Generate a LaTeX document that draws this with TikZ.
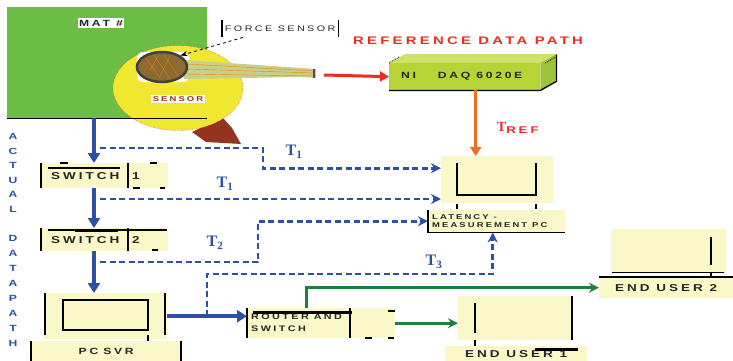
\documentclass[tikz,border=0pt]{standalone}
\usepackage{fontspec}
\usepackage{tikz}
\usetikzlibrary{arrows.meta,shapes.geometric,positioning}
\newfontfamily\boxfont[FakeStretch=1.35,LetterSpace=30]{Liberation Sans}
\newfontfamily\tfont{Liberation Serif}

\definecolor{matgreen}{HTML}{6CBD45}
\definecolor{padyellow}{HTML}{F0E830}
\definecolor{padbrown}{HTML}{943322}
\definecolor{discbrown}{HTML}{8C6A30}
\definecolor{tailgreen}{HTML}{C9CF8A}
\definecolor{paleyellow}{HTML}{FAF7C9}
\definecolor{pathblue}{HTML}{2F4FA2}
\definecolor{netgreen}{HTML}{1F7F3C}
\definecolor{daqgreen}{HTML}{B7D437}
\definecolor{daqtop}{HTML}{CFE168}
\definecolor{daqside}{HTML}{9CC43A}
\definecolor{refred}{HTML}{EE2A24}
\definecolor{reforange}{HTML}{F26B22}

\begin{document}
\begin{tikzpicture}[x=1pt, y=-1pt,
                    every node/.style={inner sep=0pt, font=\boxfont\bfseries\fontsize{9}{10}\selectfont, text=black!85},
                    unit/.style={rectangle, fill=paleyellow, anchor=north west, align=left},
                    whitetag/.style={fill=white, inner sep=1.5pt},
                    blackline/.style={black, line width=1.3pt},
                    actual/.style={pathblue, line width=3.5pt, -{Triangle[length=10pt,width=12pt]}},
                    tap/.style={pathblue, line width=2.6pt, dash pattern=on 6pt off 3.5pt, -{Stealth[length=10pt,width=10pt]}},
                    net/.style={netgreen, line width=2.6pt, -{Stealth[length=10pt,width=10pt]}},
                    tlabel/.style={text=pathblue, font=\tfont\bfseries\fontsize{16}{16}\selectfont},
                    align=center,
                ]
                \useasboundingbox (0,0) rectangle (733,361);

                % mat with the force sensor on its pad
                \node[fill=matgreen, minimum width=200pt, minimum height=111pt, anchor=north west] (mat) at (7,7) {};
                \fill[padbrown] (192,132) -- (208,124) -- (223,118) -- (232,128) -- (241,144) -- (206,142) -- cycle;
                \node[ellipse, fill=padyellow, draw=refred, densely dotted, thin, minimum width=130pt, minimum height=85pt] (pad) at (178,88) {};
                \draw[blackline] (mat.south west) -- (mat.south east);
                \node[whitetag] (matname) at (101,23) {MAT \#};
                \fill[white, rounded corners=6pt] (137,52) rectangle (189,82);
                \fill[tailgreen] (184,60) -- (302,68) -- (316,69) -- (316,78) -- (302,77) -- (184,79) -- cycle;
                \draw[orange!70!brown, thin] (186,64) -- (315,71) (186,69) -- (315,73) (186,74) -- (315,76);
                \draw[black!70, line width=2pt] (314,69) -- (314,78);
                \node[ellipse, draw=black!75, line width=2.5pt, fill=discbrown, minimum width=50pt, minimum height=30pt] (disc) at (162,67) {};
                \draw[orange!60!brown, thin] (146,58) -- (160,78) (154,55) -- (170,79) (164,55) -- (178,76) (150,70) -- (158,56) (160,76) -- (170,56);
                \node[whitetag, text=padbrown, font=\boxfont\bfseries\fontsize{7}{8}\selectfont] (padname) at (178,99) {SENSOR};
                \node[anchor=north west, minimum width=116pt, minimum height=17pt, font=\boxfont\fontsize{8}{9}\selectfont] (sensorname) at (222,20) {FORCE SENSOR};
                \draw[blackline] (sensorname.north west) -- (sensorname.south west) (sensorname.north east) -- (sensorname.south east);
                \draw[black, thick, dashed, -{Stealth[length=7pt]}] ([xshift=21pt]sensorname.south west) -- (disc.north east);

                % reference path
                \coordinate (tailend) at (324,75);
                \node[text=refred, font=\boxfont\bfseries\fontsize{11}{12}\selectfont] (refpath) at (468,41) {REFERENCE DATA PATH};
                \node[fill=daqgreen, minimum width=151pt, minimum height=27pt, anchor=north west] (daq) at (389,63) {NI\hspace{22pt}DAQ 6020E\hspace{6pt}};
                \fill[daqtop] (daq.north west) -- ++(16,-9) -- ++(151,0) -- (daq.north east) -- cycle;
                \fill[daqside] (daq.north east) -- ++(16,-9) -- ++(0,27) -- (daq.south east) -- cycle;
                \draw[blackline] (daq.south west) -- (daq.south east) -- ++(16,-9) -- ++(0,-27);
                \draw[black, densely dotted, thick] (daq.north west) -- ++(10,-6) ([xshift=5pt]daq.north east) -- ++(10,-6);
                \draw[refred, line width=3pt, -{Triangle[length=9pt,width=10pt]}] (tailend) -- (daq.west);

                \node[unit, minimum width=112pt, minimum height=47pt] (lpc) at (441,156) {};
                \draw[blackline] (457,163) -- (457,195) -- (536,195) -- (536,163);
                \node[unit, minimum width=137pt, minimum height=22pt, text width=129pt, font=\boxfont\bfseries\fontsize{7}{8}\selectfont] (lbase) at (428,210) {LATENCY\hspace{5pt}-\\MEASUREMENT\hspace{5pt}PC};
                \draw[blackline] (lbase.north west) -- (lbase.south west) -- (lbase.south east);
                \draw[blackline] (457,204) -- (457,209) (536,204) -- (536,209);
                \draw[reforange, line width=3.5pt, -{Triangle[length=9pt,width=11pt]}] ([xshift=11pt]daq.south) -- ([xshift=11pt]daq.south |- lpc.north);
                \node[text=refred, font=\tfont\bfseries\fontsize{14}{14}\selectfont] (tref) at (518,128) {T\textsubscript{\boxfont\bfseries REF}};

                % actual path
                \coordinate (col) at (94,0);
                \node[text=pathblue, font=\boxfont\bfseries\fontsize{9}{14.5}\selectfont] (actual) at (13,173) {A\\C\\T\\U\\A\\L};
                \node[text=pathblue, font=\boxfont\bfseries\fontsize{9}{15}\selectfont] (datapath) at (13,291) {D\\A\\T\\A\\P\\A\\T\\H};

                \node[unit, minimum width=127pt, minimum height=25pt, text width=119pt, font=\boxfont\bfseries\fontsize{10}{11}\selectfont] (sw1) at (41,163) {\hspace*{6pt}\makebox[81pt][l]{SWITCH}1};
                \draw[blackline] (sw1.north west) -- (sw1.south west) (128,163) -- (128,188);
                \draw[black, line width=2.5pt] (48,168) -- (120,168);
                \draw[black, line width=1.5pt] (60,163) -- (68,163) (150,163) -- (157,163) (133,188) -- (140,188) (160,188) -- (165,188);

                \node[unit, minimum width=127pt, minimum height=23pt, text width=119pt, font=\boxfont\bfseries\fontsize{10}{11}\selectfont] (sw2) at (41,228) {\hspace*{6pt}\makebox[81pt][l]{SWITCH}2};
                \draw[blackline] (sw2.north west) -- (sw2.south west) (128,228) -- (128,251);
                \draw[black, line width=1.5pt] (48,230) -- (167,230) (152,250) -- (158,250);
                \draw[black, line width=3pt] (75,230) -- (118,230);

                \node[unit, minimum width=123pt, minimum height=46pt] (pc) at (44,293) {};
                \draw[blackline] (45,293) -- (45,335) (165,293) -- (165,335) (148,335) -- (148,341);
                \draw[blackline] (63,300) rectangle (148,330);
                \node[unit, minimum width=152pt, minimum height=20pt, align=center] (pcbase) at (30,341) {PC\hspace{5pt}SVR};
                \draw[blackline] (31,341) -- (31,361) (181,341) -- (181,361);

                \node[unit, minimum width=148pt, minimum height=30pt, text width=140pt, font=\boxfont\bfseries\fontsize{8}{12}\selectfont] (rsw) at (247,308) {ROUTER\hspace{5pt}AND\\SWITCH};
                \draw[blackline] (rsw.north west) -- (rsw.south west) (350,308) -- (350,338);
                \draw[black, line width=3pt] (253,312) -- (352,312);
                \draw[black, line width=1.5pt] (388,311) -- (395,311) (365,338) -- (372,338) (388,338) -- (394,338);

                % end users
                \node[unit, minimum width=115pt, minimum height=44pt] (eu1) at (458,296) {};
                \draw[blackline] (475,303) -- (475,333) (572,296) -- (572,340) (475,340) -- (475,346);
                \node[unit, minimum width=142pt, minimum height=15pt, align=center, font=\boxfont\bfseries\fontsize{10}{11}\selectfont] (eu1base) at (445,346) {END USER 1};
                \draw[black, line width=3pt] (535,349) -- (578,349);

                \node[unit, minimum width=115pt, minimum height=44pt] (eu2) at (611,229) {};
                \draw[blackline] (711,237) -- (711,265) (711,272) -- (711,277);
                \draw[black, thin] (612,272) -- (724,272);
                \node[unit, minimum width=134pt, minimum height=21pt, align=center, font=\boxfont\bfseries\fontsize{10}{11}\selectfont] (eu2base) at (599,277) {END USER 2};
                \draw[blackline] (eu2base.north west) -- (eu2base.north east);

                % connectors
                \draw[actual] (mat.south -| col) -- (sw1.north -| col);
                \draw[actual] (sw1.south -| col) -- (sw2.north -| col);
                \draw[actual] (sw2.south -| col) -- (pc.north -| col);
                \draw[actual] (pc.east) -- (pc.east -| rsw.west);
                \draw[net] ([xshift=-15pt]rsw.north) |- (eu2base.west);
                \draw[net] (rsw.east) -- (rsw.east -| eu1.west);

                \coordinate (tap1) at (100,148);
                \coordinate (tap2) at (100,199);
                \coordinate (tap3) at (100,262);
                \coordinate (tap4) at (207,316);
                \draw[tap] (tap1) -- (263,148) |- ([yshift=11.5pt]lpc.west);
                \draw[tap] (tap2) -- (tap2 -| lpc.west);
                \draw[tap] (tap3) -- (258,262) |- (lbase.west);
                \draw[tap] (tap4) -- (207,274) -| ([xshift=-4pt]lbase.south);

                \node[tlabel] (t1) at (294,152) {T\textsubscript{1}};
                \node[tlabel] (t1b) at (225,184) {T\textsubscript{1}};
                \node[tlabel] (t2) at (215,243) {T\textsubscript{2}};
                \node[tlabel] (t3) at (434,262) {T\textsubscript{3}};
            \end{tikzpicture}
\end{document}
